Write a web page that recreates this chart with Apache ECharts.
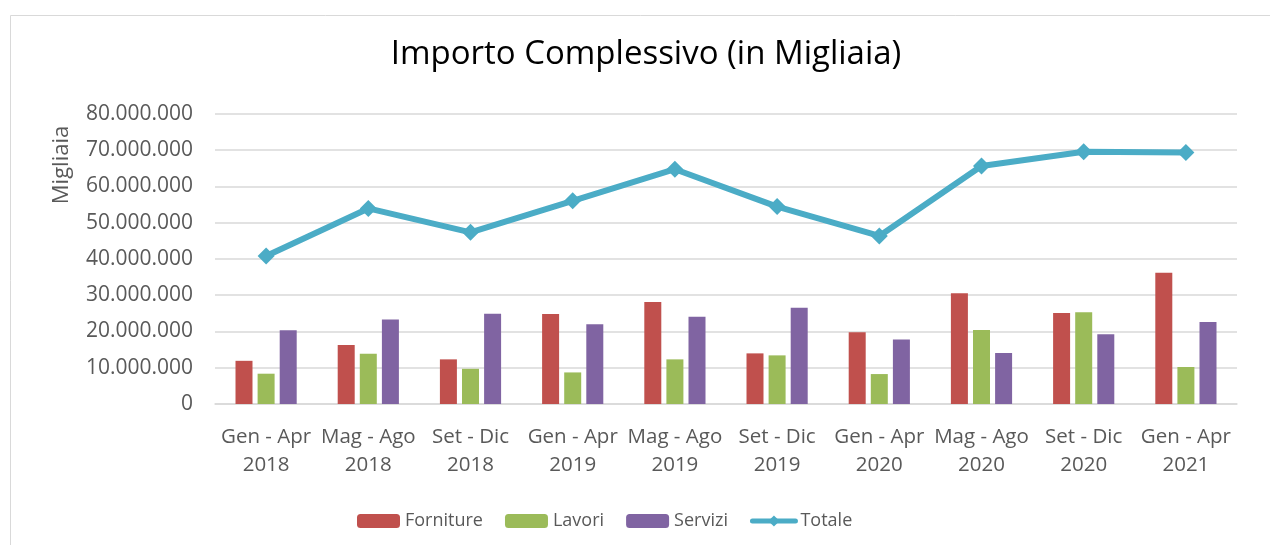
<!DOCTYPE html>
<html>
<head>
<meta charset="utf-8">
<script src="https://cdn.jsdelivr.net/npm/echarts@6/dist/echarts.min.js"></script>
<style>html,body{margin:0;padding:0;background:#fff;}#c{width:1270px;height:545px;}</style>
</head>
<body>
<div id="c"></div>
<script>
const categories = ['Gen - Apr\n2018','Mag - Ago\n2018','Set - Dic\n2018','Gen - Apr\n2019','Mag - Ago\n2019','Set - Dic\n2019','Gen - Apr\n2020','Mag - Ago\n2020','Set - Dic\n2020','Gen - Apr\n2021'];
const forniture = [11900000,16250000,12300000,24800000,28100000,13950000,19800000,30500000,25100000,36200000];
const lavori    = [8350000,13850000,9700000,8700000,12300000,13400000,8250000,20400000,25300000,10200000];
const servizi   = [20300000,23300000,24900000,22000000,24050000,26500000,17800000,14050000,19200000,22600000];
const totale    = [40800000,53900000,47300000,56000000,64700000,54400000,46300000,65600000,69500000,69300000];
const yTicks = {min:0, max:80000000, interval:10000000};

const fmt = v => v === 0 ? '0' : String(v).replace(/\B(?=(\d{3})+(?!\d))/g, '.');
const font = '"Open Sans", "Noto Sans", sans-serif';
const chart = echarts.init(document.getElementById('c'), null, {renderer:'canvas'});
chart.setOption({
  animation:false,
  textStyle:{fontFamily:font},
  graphic:[
    {type:'rect', shape:{x:10.5,y:15.5,width:1300,height:600}, style:{fill:'none', stroke:'#d9d9d9', lineWidth:1}, silent:true, z:-10},
    {type:'text', x:646, y:38, style:{text:'Importo Complessivo (in Migliaia)', font:'33px ' + font, fill:'#000', align:'center', verticalAlign:'top'}},
    {type:'text', x:51, y:165, rotation:Math.PI/2, style:{text:'Migliaia', font:'22px ' + font, fill:'#595959', align:'center', verticalAlign:'top'}}
  ],
  grid:{left:215, right:33, top:113.7, bottom:141, containLabel:false},
  legend:{
    left:352, top:507, itemWidth:43, itemHeight:14, itemGap:22,
    textStyle:{fontSize:18, color:'#595959', fontFamily:font},
    data:['Forniture','Lavori','Servizi',{name:'Totale', lineStyle:{width:5, cap:'round'}}]
  },
  xAxis:{
    type:'category', data:categories,
    axisLine:{lineStyle:{color:'#d9d9d9', width:1.5}},
    axisTick:{show:false},
    axisLabel:{fontSize:20.5, color:'#595959', lineHeight:28, margin:19, interval:0, fontFamily:font}
  },
  yAxis:{
    type:'value', min:yTicks.min, max:yTicks.max, interval:yTicks.interval,
    axisLine:{show:false}, axisTick:{show:false},
    splitLine:{lineStyle:{color:'#d9d9d9', width:1.5}},
    axisLabel:{fontSize:21, color:'#595959', margin:22, formatter:fmt, fontFamily:font}
  },
  series:[
    {name:'Forniture', type:'bar', barWidth:17, barGap:'30%', data:forniture, itemStyle:{color:'#c0504d'}},
    {name:'Lavori', type:'bar', barWidth:17, barGap:'30%', data:lavori, itemStyle:{color:'#9bbb59'}},
    {name:'Servizi', type:'bar', barWidth:17, barGap:'30%', data:servizi, itemStyle:{color:'#8064a2'}},
    {name:'Totale', type:'line', data:totale, symbol:'diamond', symbolSize:17,
     lineStyle:{color:'#4bacc6', width:6}, itemStyle:{color:'#4bacc6'}, z:5}
  ]
});
</script>
</body>
</html>
